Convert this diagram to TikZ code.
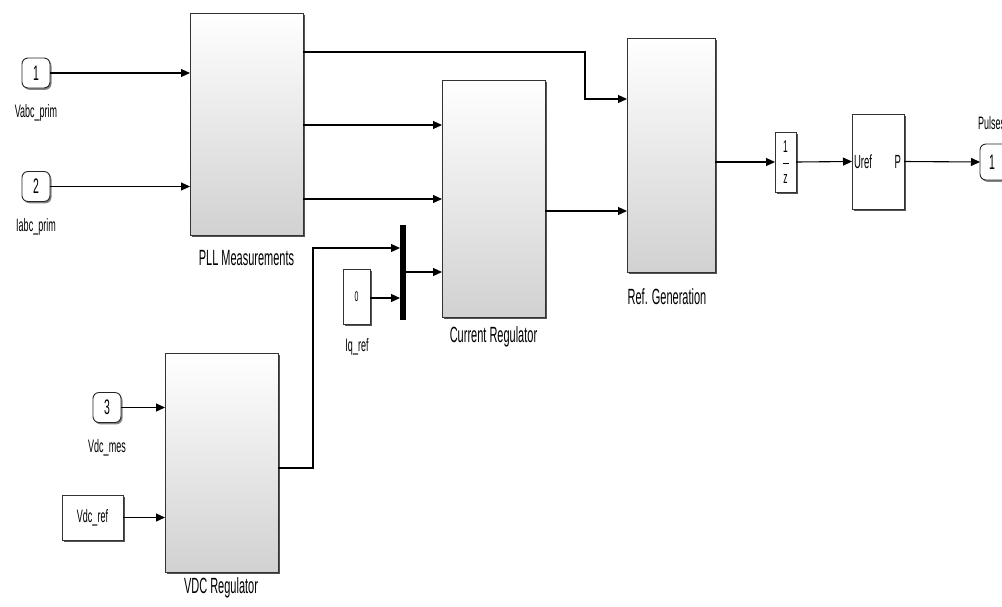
\documentclass[tikz,border=0pt]{standalone}
\usepackage{fontspec}
\setmainfont{Liberation Sans}[FakeStretch=0.5]
\usetikzlibrary{arrows.meta,shadows,calc}
\begin{document}
\begin{tikzpicture}[x=1pt,y=-1pt,
  every node/.style={inner sep=0pt,outer sep=0pt},
  blk/.style={draw=black!80,line width=0.8pt,top color=white,bottom color=black!18,
     drop shadow={shadow xshift=2.2pt,shadow yshift=-2.2pt,fill=black!75,opacity=0.9}},
  plainblk/.style={draw=black!80,line width=0.8pt,fill=white,
     drop shadow={shadow xshift=2pt,shadow yshift=-2pt,fill=black!75,opacity=0.9}},
  port/.style={draw=black!85,line width=0.9pt,fill=white,rounded corners=6pt,
     minimum width=28pt,minimum height=30pt,font=\fontsize{21}{21}\selectfont,
     drop shadow={shadow xshift=1.5pt,shadow yshift=-1.8pt,fill=black!60,opacity=0.8}},
  lbl/.style={font=\fontsize{18}{18}\selectfont},
  blbl/.style={font=\fontsize{22}{22}\selectfont},
  wire/.style={line width=1.1pt,-{Triangle[length=9pt,width=8pt]}}
]
\useasboundingbox (0,0) rectangle (1002,606);
\clip (0,0) rectangle (1002,606);

% blocks
\node[blk,minimum width=113pt,minimum height=222pt] (pll) at (246.5,124) {};
\node[blbl] at (246.5,258) {PLL Measurements};

\node[blk,minimum width=103pt,minimum height=237pt] (cur) at (493.5,198.5) {};
\node[blbl] at (493.5,337) {Current Regulator};

\node[blk,minimum width=88pt,minimum height=234pt] (ref) at (671,155) {};
\node[blbl] at (667,297) {Ref. Generation};

\node[blk,minimum width=113pt,minimum height=219pt] (vdc) at (221.5,462.5) {};
\node[blbl] at (221,588) {VDC Regulator};

\node[fill=black,minimum width=6pt,minimum height=95pt] (mux) at (403,272.5) {};

\node[plainblk,minimum width=27pt,minimum height=55pt,font=\fontsize{14}{14}\selectfont] (iq) at (356.5,296.5) {0};
\node[lbl] at (357,347) {Iq\_ref};

\node[plainblk,minimum width=61pt,minimum height=45pt,font=\fontsize{18}{18}\selectfont] (vref) at (92.5,517.5) {Vdc\_ref};

\node[plainblk,minimum width=21pt,minimum height=60pt] (dly) at (785.5,162) {};
\node[font=\fontsize{17}{17}\selectfont] at (785.5,147) {1};
\draw[line width=0.9pt] (782.5,163) -- (788.5,163);
\node[font=\fontsize{17}{17}\selectfont] at (785.5,179) {z};

\node[plainblk,minimum width=52pt,minimum height=95pt] (pul) at (878,161.5) {};
\node[font=\fontsize{19}{19}\selectfont,anchor=west] at (854,162) {Uref};
\node[font=\fontsize{19}{19}\selectfont,anchor=east] at (901,162) {P};

% ports
\node[port] (in1) at (36,73) {1};
\node[lbl] at (36,113) {Vabc\_prim};
\node[port] (in2) at (36,186.5) {2};
\node[lbl] at (36,227) {Iabc\_prim};
\node[port] (in3) at (107,407.5) {3};
\node[lbl] at (107,448) {Vdc\_mes};
\node[port,minimum width=36pt,minimum height=36pt,anchor=west] (out1) at (980,162) {\hspace*{-12pt}1};
\node[lbl,anchor=west] at (978,123) {Pulses};

% coordinates
\coordinate (p1) at (303,52);
\coordinate (p2) at (303,125);
\coordinate (p3) at (303,199);
\coordinate (r1) at (627,99);
\coordinate (r2) at (627,211);
\coordinate (c3) at (442,272);
\coordinate (m1) at (400,248);
\coordinate (m2) at (400,298);
\coordinate (vo) at (278,468);
\coordinate (co) at (545,211);

% wires
\draw[wire] (in1.east) -- (in1.east -| pll.west);
\draw[wire] (in2.east) -- (in2.east -| pll.west);
\draw[wire] (p1) -- (585,52) |- (r1);
\draw[wire] (p2) -- (p2 -| cur.west);
\draw[wire] (p3) -- (p3 -| cur.west);
\draw[wire] (mux.east |- c3) -- (c3);
\draw[wire] (vo) -- (313,468) |- (m1);
\draw[wire] (iq.east |- m2) -- (m2);
\draw[wire] (in3.east) -- (in3.east -| vdc.west);
\draw[wire] (vref.east) -- (vref.east -| vdc.west);
\draw[wire] (co) -- (r2);
\draw[wire] (ref.east |- dly) -- (dly.west);
\draw[wire] (dly.east) -- (pul.west);
\draw[wire] (pul.east) -- (out1.west);
\end{tikzpicture}
\end{document}
